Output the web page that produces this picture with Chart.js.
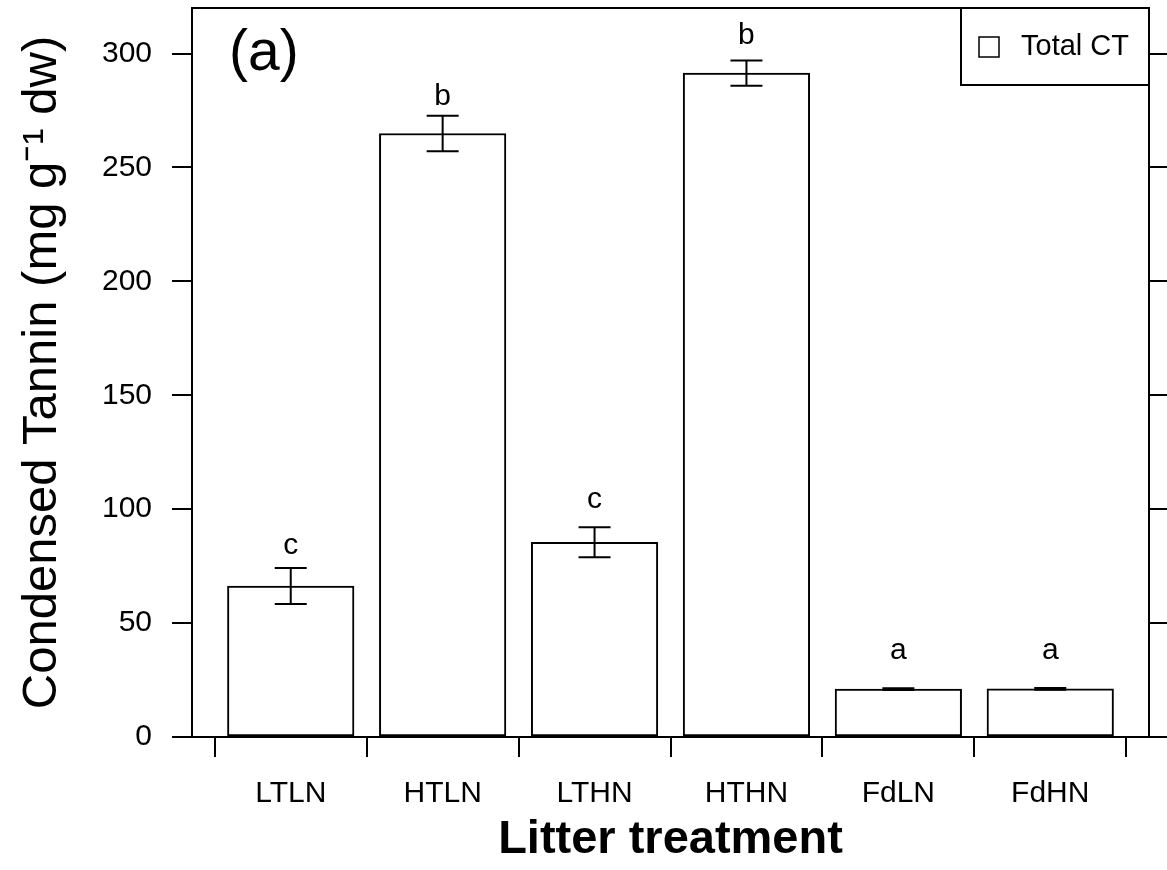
<!DOCTYPE html>
<html>
<head>
<meta charset="utf-8">
<script src="https://cdn.jsdelivr.net/npm/chart.js@4/dist/chart.umd.min.js"></script>
<style>
  html, body { margin: 0; padding: 0; background: #fff; }
</style>
</head>
<body>
<canvas id="taninoChart" width="1167" height="870"></canvas>
<script>
// datos
const categorias = ['LTLN', 'HTLN', 'LTHN', 'HTHN', 'FdLN', 'FdHN'];
const medias = [66.3, 264.9, 85.5, 291.4, 21.0, 21.1];
const errores = [7.9, 7.8, 6.6, 5.5, 0.4, 0.4];
const letras = ['c', 'b', 'c', 'b', 'a', 'a'];
const letrasY = [84, 281, 104, 308, 38, 38];
const ticksY = [0, 50, 100, 150, 200, 250, 300];

const FUENTE = "'Liberation Sans', Arial, sans-serif";

// ticks del eje x: bordes de cada categoria (marcas) y centros (etiquetas)
const ticksX = [];
categorias.forEach((c, i) => { ticksX.push(i - 0.5); ticksX.push(i); });
ticksX.push(categorias.length - 0.5);

const extras = {
    id: 'extras',
    beforeDraw(chart) {
        const ctx = chart.ctx;
        ctx.save();
        ctx.fillStyle = '#fff';
        ctx.fillRect(0, 0, chart.width, chart.height);
        ctx.restore();
    },
    afterDatasetsDraw(chart) {
        const ctx = chart.ctx;
        const x = chart.scales.x;
        const y = chart.scales.y;
        ctx.save();
        ctx.strokeStyle = '#000';
        ctx.lineWidth = 2;
        // barras de error
        medias.forEach((m, i) => {
            const px = x.getPixelForValue(i);
            const arriba = y.getPixelForValue(m + errores[i]);
            const abajo = y.getPixelForValue(m - errores[i]);
            ctx.beginPath();
            ctx.moveTo(px, arriba); ctx.lineTo(px, abajo);
            ctx.moveTo(px - 16, arriba); ctx.lineTo(px + 16, arriba);
            ctx.moveTo(px - 16, abajo); ctx.lineTo(px + 16, abajo);
            ctx.stroke();
        });
        // letras de significancia
        ctx.fillStyle = '#000';
        ctx.font = '30px ' + FUENTE;
        ctx.textAlign = 'center';
        ctx.textBaseline = 'middle';
        letras.forEach((l, i) => {
            ctx.fillText(l, x.getPixelForValue(i), y.getPixelForValue(letrasY[i]));
        });
        ctx.restore();
    },
    afterDraw(chart) {
        const ctx = chart.ctx;
        const a = chart.chartArea;
        ctx.save();
        ctx.strokeStyle = '#000';
        ctx.lineWidth = 2;
        // linea superior de la caja y linea base
        ctx.beginPath();
        ctx.moveTo(a.left, a.top); ctx.lineTo(a.right, a.top);
        ctx.moveTo(a.left - 20, a.bottom); ctx.lineTo(chart.width, a.bottom);
        ctx.stroke();

        // panel (a)
        ctx.fillStyle = '#000';
        ctx.font = '57px ' + FUENTE;
        ctx.textAlign = 'left';
        ctx.textBaseline = 'middle';
        ctx.fillText('(a)', a.left + 37, a.top + 46);

        // leyenda estilo R
        const ancho = 188, alto = 77;
        const lx = a.right - ancho, ly = a.top;
        ctx.fillStyle = '#fff';
        ctx.fillRect(lx, ly, ancho, alto);
        ctx.lineWidth = 2;
        ctx.strokeRect(lx, ly, ancho, alto);
        ctx.lineWidth = 1.5;
        ctx.strokeRect(lx + 18, ly + 29, 20, 20);
        ctx.fillStyle = '#000';
        ctx.font = '29px ' + FUENTE;
        ctx.fillText('Total CT', lx + 60, ly + 39);
        ctx.restore();
    }
};

const sinPadding = (scale) => {
    scale.paddingTop = 0;
    scale.paddingBottom = 0;
    scale.paddingLeft = 0;
    scale.paddingRight = 0;
};

new Chart(document.getElementById('taninoChart'), {
    type: 'bar',
    data: {
        datasets: [{
            label: 'Total CT',
            data: medias.map((m, i) => ({ x: i, y: m })),
            backgroundColor: '#fff',
            borderColor: '#000',
            borderWidth: 2,
            borderSkipped: false,
            barThickness: 'flex',
            categoryPercentage: 1,
            barPercentage: 0.833
        }]
    },
    options: {
        responsive: false,
        animation: false,
        layout: { padding: { top: 8, left: 0, right: 0, bottom: 0 } },
        plugins: {
            legend: { display: false },
            tooltip: { enabled: false }
        },
        scales: {
            x: {
                type: 'linear',
                offset: false,
                min: -0.65,
                max: categorias.length - 0.35,
                afterBuildTicks: (scale) => { scale.ticks = ticksX.map(v => ({ value: v })); },
                afterFit: (scale) => { scale.height = 133; sinPadding(scale); },
                grid: {
                    offset: false,
                    drawOnChartArea: false,
                    tickLength: 20,
                    lineWidth: 2,
                    tickColor: (c) => (c.tick && Number.isInteger(c.tick.value)) ? 'rgba(0,0,0,0)' : '#000'
                },
                border: { display: false },
                ticks: {
                    autoSkip: false,
                    maxRotation: 0,
                    padding: 19,
                    color: '#000',
                    font: { family: FUENTE, size: 30 },
                    callback: (v) => Number.isInteger(v) ? categorias[v] : ''
                },
                title: {
                    display: true,
                    text: 'Litter treatment',
                    color: '#000',
                    font: { family: FUENTE, size: 47, weight: 'bold' },
                    padding: { top: 0, bottom: 2 }
                }
            },
            y: {
                position: 'left',
                min: 0,
                max: 320,
                afterBuildTicks: (scale) => { scale.ticks = ticksY.map(v => ({ value: v })); },
                afterFit: (scale) => { scale.width = 192; sinPadding(scale); },
                grid: {
                    drawOnChartArea: false,
                    tickLength: 20,
                    lineWidth: 2,
                    tickColor: '#000'
                },
                border: { display: true, color: '#000', width: 2 },
                ticks: {
                    padding: 20,
                    color: '#000',
                    font: { family: FUENTE, size: 30 }
                },
                title: {
                    display: true,
                    text: 'Condensed Tannin (mg g\u207B\u00B9 dw)',
                    color: '#000',
                    font: { family: FUENTE, size: 49 },
                    padding: { top: 13, bottom: 0 }
                }
            },
            y2: {
                position: 'right',
                min: 0,
                max: 320,
                afterBuildTicks: (scale) => { scale.ticks = ticksY.map(v => ({ value: v })); },
                afterFit: (scale) => { scale.width = 18; sinPadding(scale); },
                grid: {
                    drawOnChartArea: false,
                    tickLength: 18,
                    lineWidth: 2,
                    tickColor: '#000'
                },
                border: { display: true, color: '#000', width: 2 },
                ticks: { display: false }
            }
        }
    },
    plugins: [extras]
});
</script>
</body>
</html>
